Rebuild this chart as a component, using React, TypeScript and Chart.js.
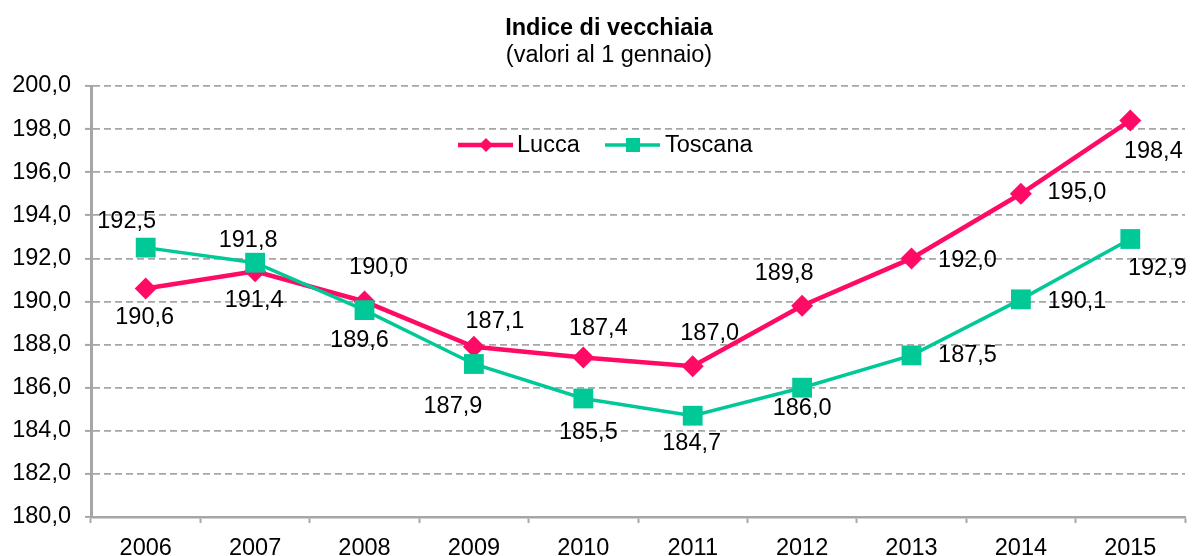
import { useEffect, useRef } from 'react';
import { Chart, registerables } from 'chart.js';

Chart.register(...registerables);

const years = ['2006', '2007', '2008', '2009', '2010', '2011', '2012', '2013', '2014', '2015'];
const lucca = [190.6, 191.4, 190.0, 187.9, 187.4, 187.0, 189.8, 192.0, 195.0, 198.4];
const toscana = [192.5, 191.8, 189.6, 187.1, 185.5, 184.7, 186.0, 187.5, 190.1, 192.9];
const seriesNames = ['Lucca', 'Toscana'];
const titleText = 'Indice di vecchiaia';
const subtitleText = '(valori al 1 gennaio)';
const yMin = 180;
const yMax = 200;
const yStep = 2;

// style: label placement offsets (px) relative to each point
const luccaLabelOffsets = [[-1, 29], [-1, 29], [14, -34], [-21, 60], [15, -29], [17, -33], [-18, -32], [56, 2], [56, -1], [23, 31]];
const toscanaLabelOffsets = [[-19, -26], [-7, -22], [-5, 30], [21, -42], [5, 34], [-1, 28], [0, 21], [56, 0], [56, 2], [27, 30]];

const PINK = '#FF0A64';
const GREEN = '#00C896';
const GRAY = '#A6A6A6';
const FONT = '"Liberation Sans", Arial, sans-serif';
const FS = 23.5;

const fmt = (v: number) => v.toFixed(1).replace('.', ',');

const overlayPlugin = {
  id: 'overlay',
  afterDraw(chart: any) {
    const ctx = chart.ctx as CanvasRenderingContext2D;
    ctx.save();
    // Title
    ctx.fillStyle = '#000';
    ctx.textAlign = 'center';
    ctx.textBaseline = 'alphabetic';
    ctx.font = `bold ${FS}px ${FONT}`;
    ctx.fillText(titleText, 609, 35);
    ctx.font = `${FS}px ${FONT}`;
    ctx.fillText(subtitleText, 609, 62);

    // Legend
    const ly = 145;
    ctx.lineWidth = 4.5;
    ctx.strokeStyle = PINK;
    ctx.beginPath();
    ctx.moveTo(458, ly);
    ctx.lineTo(513, ly);
    ctx.stroke();
    ctx.fillStyle = PINK;
    ctx.beginPath();
    const dr = 7;
    ctx.moveTo(486, ly - dr);
    ctx.lineTo(486 + dr, ly);
    ctx.lineTo(486, ly + dr);
    ctx.lineTo(486 - dr, ly);
    ctx.closePath();
    ctx.fill();

    ctx.lineWidth = 3.5;
    ctx.strokeStyle = GREEN;
    ctx.beginPath();
    ctx.moveTo(605, ly);
    ctx.lineTo(660, ly);
    ctx.stroke();
    ctx.fillStyle = GREEN;
    ctx.fillRect(633 - 7, ly - 7, 14, 14);

    ctx.fillStyle = '#000';
    ctx.textAlign = 'left';
    ctx.textBaseline = 'middle';
    ctx.font = `${FS}px ${FONT}`;
    ctx.fillText(seriesNames[0], 517, ly + 1);
    ctx.fillText(seriesNames[1], 665, ly + 1);

    // Data labels
    ctx.textAlign = 'center';
    ctx.textBaseline = 'middle';
    const sets = [
      { idx: 0, values: lucca, offs: luccaLabelOffsets },
      { idx: 1, values: toscana, offs: toscanaLabelOffsets },
    ];
    sets.forEach((s) => {
      const meta = chart.getDatasetMeta(s.idx);
      meta.data.forEach((pt: any, i: number) => {
        const [dx, dy] = s.offs[i];
        ctx.fillText(fmt(s.values[i]), pt.x + dx, pt.y + dy);
      });
    });
    ctx.restore();
  },
};

export default function App() {
  const ref = useRef<HTMLCanvasElement>(null);
  useEffect(() => {
    if (!ref.current) return;
    const chart = new Chart(ref.current, {
      type: 'line',
      data: {
        labels: years,
        datasets: [
          {
            label: seriesNames[0],
            data: lucca,
            borderColor: PINK,
            backgroundColor: PINK,
            borderWidth: 4.5,
            pointStyle: 'rectRot',
            pointRadius: 11,
            pointBorderWidth: 0,
            pointBackgroundColor: PINK,
            tension: 0,
            order: 1,
          },
          {
            label: seriesNames[1],
            data: toscana,
            borderColor: GREEN,
            backgroundColor: GREEN,
            borderWidth: 3.5,
            pointStyle: 'rect',
            pointRadius: 14,
            pointBorderWidth: 0,
            pointBackgroundColor: GREEN,
            tension: 0,
            order: 0,
          },
        ],
      },
      options: {
        responsive: false,
        animation: false,
        layout: { padding: { top: 86, right: 5, left: 0, bottom: 0 } },
        plugins: {
          legend: { display: false },
          title: { display: false },
          tooltip: { enabled: false },
        },
        scales: {
          x: {
            offset: true,
            grid: {
              offset: true,
              drawOnChartArea: false,
              drawTicks: true,
              tickLength: 6,
              tickColor: GRAY,
              tickWidth: 2,
            },
            border: { display: true, color: GRAY, width: 2.5 },
            ticks: {
              color: '#000',
              font: { family: FONT, size: FS },
              padding: 11,
              maxRotation: 0,
              autoSkip: false,
            },
            afterFit: (s: any) => {
              s.height = 39;
            },
          },
          y: {
            min: yMin,
            max: yMax,
            grid: {
              color: (c: any) => (c.tick && c.tick.value === yMin ? 'rgba(0,0,0,0)' : GRAY),
              lineWidth: 1.8,
              drawTicks: true,
              tickLength: 6,
              tickColor: GRAY,
              tickWidth: 2,
              tickBorderDash: [],
            },
            border: { display: true, color: GRAY, width: 3, dash: [7, 4] },
            ticks: {
              stepSize: yStep,
              color: '#000',
              font: { family: FONT, size: FS },
              padding: 14,
              callback: (v: any) => fmt(Number(v)),
            },
            afterFit: (s: any) => {
              s.width = 91;
            },
          },
        },
      },
      plugins: [overlayPlugin],
    });
    return () => chart.destroy();
  }, []);

  return (
    <div style={{ position: 'fixed', left: 0, top: 0, width: 1199, height: 556, background: '#fff' }}>
      <canvas ref={ref} width={1199} height={556} style={{ display: 'block' }} />
    </div>
  );
}
